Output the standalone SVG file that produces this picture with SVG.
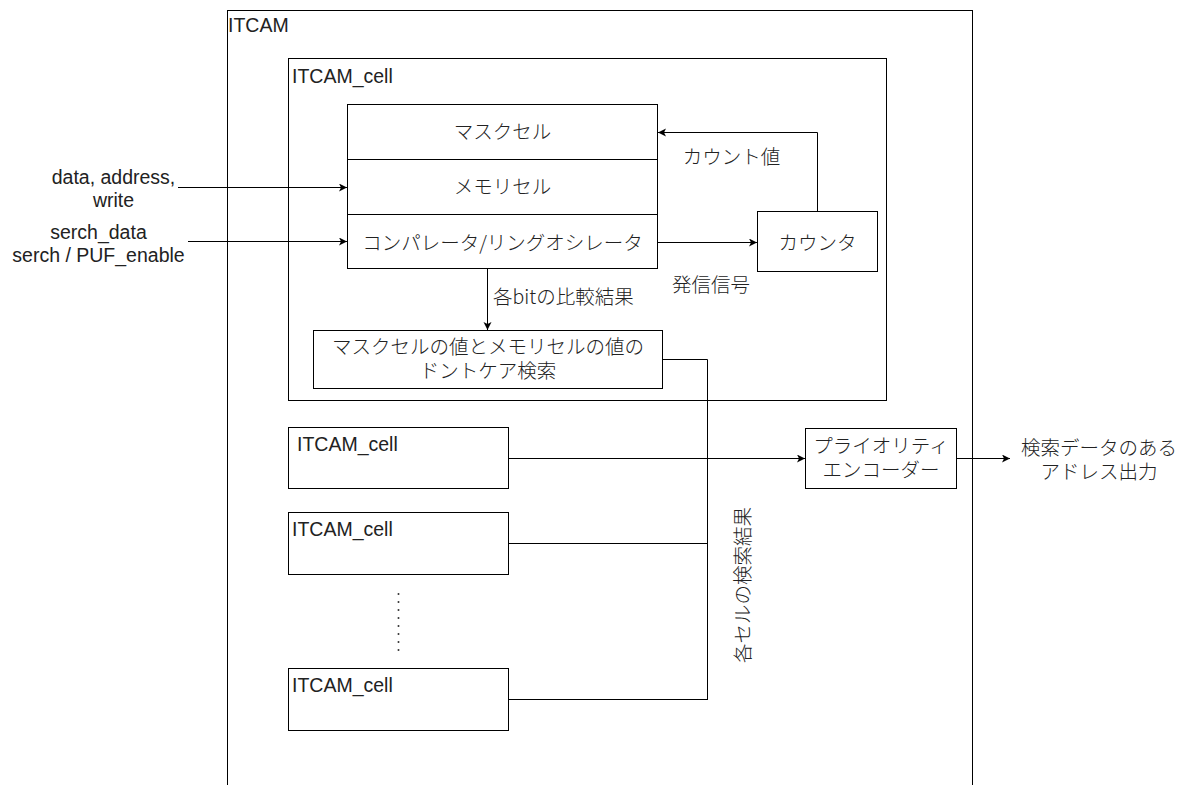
<svg xmlns="http://www.w3.org/2000/svg" width="1184" height="785" viewBox="0 0 1184 785">
<style>
.box{fill:#fff;stroke:#000;stroke-width:1}
.ln{fill:none;stroke:#000;stroke-width:1}
.t{font-family:"Liberation Sans","Noto Sans CJK JP",sans-serif;font-size:19.5px;fill:#222}
.j{font-family:"Noto Sans CJK JP","Liberation Sans",sans-serif;font-size:19.5px;font-weight:300;fill:#222}
.m{text-anchor:middle}
</style>
<defs>
<marker id="ah" markerWidth="10" markerHeight="10" refX="8" refY="4" orient="auto" markerUnits="userSpaceOnUse">
<path d="M0,0 L8,4 L0,8 L2,4 Z" fill="#000"/>
</marker>
</defs>
<g id="itcam">
<rect class="box" x="227.5" y="10.5" width="745" height="800"/>
<text class="t" x="228" y="32">ITCAM</text>
</g>
<g id="itcam-cell-main">
<rect class="box" x="288.5" y="58.5" width="598" height="342"/>
<text class="t" x="292" y="83">ITCAM_cell</text>
</g>
<g id="mask-cell">
<rect class="box" x="347.5" y="104.5" width="310" height="55"/>
<text class="j m" x="502.5" y="139">マスクセル</text>
</g>
<g id="memory-cell">
<rect class="box" x="347.5" y="159.5" width="310" height="55"/>
<text class="j m" x="502.5" y="194">メモリセル</text>
</g>
<g id="comparator">
<rect class="box" x="347.5" y="214.5" width="310" height="54"/>
<text class="j m" x="502.5" y="250">コンパレータ/リングオシレータ</text>
</g>
<g id="counter">
<rect class="box" x="757.5" y="211.5" width="120" height="60"/>
<text class="j m" x="817.5" y="250">カウンタ</text>
</g>
<g id="dontcare">
<rect class="box" x="313.5" y="330.5" width="349" height="58"/>
<text class="j m" x="488" y="354">マスクセルの値とメモリセルの値の</text>
<text class="j m" x="488" y="378">ドントケア検索</text>
</g>
<g id="cell1">
<rect class="box" x="288.5" y="427.5" width="220" height="61"/>
<text class="t" x="297" y="451">ITCAM_cell</text>
</g>
<g id="cell2">
<rect class="box" x="288.5" y="512.5" width="220" height="62"/>
<text class="t" x="292" y="536">ITCAM_cell</text>
</g>
<g id="cell-n">
<rect class="box" x="288.5" y="668.5" width="220" height="62"/>
<text class="t" x="292" y="692">ITCAM_cell</text>
</g>
<g id="priority-encoder">
<rect class="box" x="805.5" y="428.5" width="151" height="60"/>
<text class="j m" x="881" y="453">プライオリティ</text>
<text class="j m" x="881" y="477">エンコーダー</text>
</g>
<g id="connectors">
<line class="ln" x1="178" y1="187.5" x2="347" y2="187.5" marker-end="url(#ah)"/>
<line class="ln" x1="188" y1="241.5" x2="347" y2="241.5" marker-end="url(#ah)"/>
<line class="ln" x1="658" y1="242.5" x2="757" y2="242.5" marker-end="url(#ah)"/>
<polyline class="ln" points="817.5,211 817.5,132.5 658,132.5" marker-end="url(#ah)"/>
<line class="ln" x1="487.5" y1="269" x2="487.5" y2="330" marker-end="url(#ah)"/>
<polyline class="ln" points="663,359.5 707.5,359.5 707.5,699.5"/>
<line class="ln" x1="509" y1="458.5" x2="805" y2="458.5" marker-end="url(#ah)"/>
<line class="ln" x1="509" y1="543.5" x2="707.5" y2="543.5"/>
<line class="ln" x1="509" y1="699.5" x2="708" y2="699.5"/>
<line class="ln" x1="957" y1="458.5" x2="1010" y2="458.5" marker-end="url(#ah)"/>
<line x1="398.5" y1="594" x2="398.5" y2="658" stroke="#333" stroke-width="2" stroke-linecap="round" stroke-dasharray="0 8"/>
</g>
<g id="labels">
<text class="t m" x="113.5" y="184">data, address,</text>
<text class="t m" x="113.5" y="207">write</text>
<text class="t m" x="98.5" y="239">serch_data</text>
<text class="t m" x="98.5" y="262">serch / PUF_enable</text>
<text class="j m" x="731.5" y="164">カウント値</text>
<text class="j m" x="711" y="292">発信信号</text>
<text class="j" x="493" y="304">各bitの比較結果</text>
<text class="j m" x="1099" y="455">検索データのある</text>
<text class="j m" x="1099" y="479">アドレス出力</text>
<text class="j m" transform="translate(743,585) rotate(-90)" y="7">各セルの検索結果</text>
</g>
</svg>
